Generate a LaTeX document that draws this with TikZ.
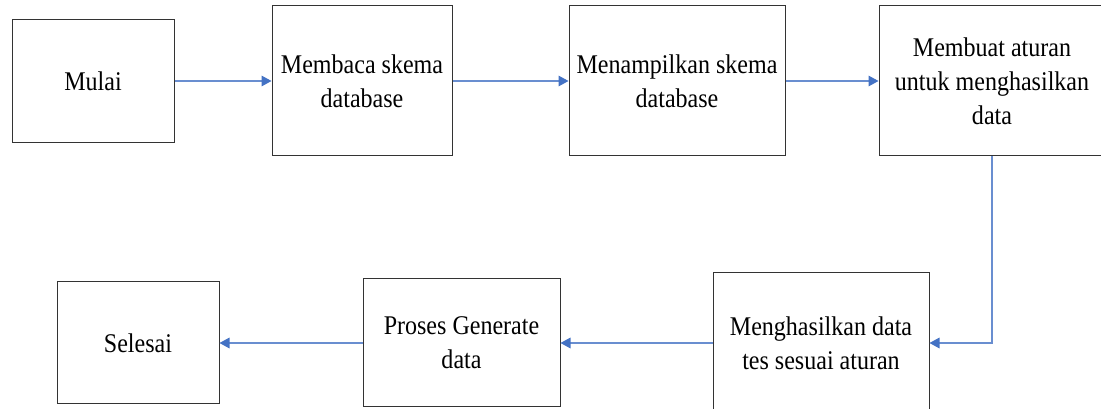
\documentclass[tikz,border=0pt]{standalone}
\usepackage{fontspec}
\setmainfont[FakeStretch=0.89]{Liberation Serif}
\usetikzlibrary{arrows.meta}
\definecolor{arrowblue}{RGB}{68,114,196}
\begin{document}
\begin{tikzpicture}[x=0.75pt,y=-0.75pt,
  stepbox/.style={draw=black!80, line width=0.75pt, align=center, inner sep=0pt,
    font=\fontsize{20.25}{25.5}\selectfont},
  flow/.style={draw=arrowblue!80, line width=0.8pt,
    -{Triangle[length=7.5pt,width=8pt,color=arrowblue]}}]
\useasboundingbox (0,0) rectangle (1101,409);
\clip (0,0) rectangle (1101,409);

% top row
\node[stepbox, minimum width=121.5pt, minimum height=92.25pt] (mulai) at (93,81) {Mulai};
\node[stepbox, minimum width=135pt, minimum height=112.5pt] (baca) at (362,81) {Membaca skema\\database};
\node[stepbox, minimum width=162pt, minimum height=112.5pt] (tampil) at (677,81) {Menampilkan skema\\database};
\node[stepbox, minimum width=169.5pt, minimum height=112.5pt] (aturan) at (992,81) {Membuat aturan\\untuk menghasilkan\\data};

% bottom row
\node[stepbox, minimum width=162pt, minimum height=105pt] (hasil) at (821,343) {Menghasilkan data\\tes sesuai aturan};
\node[stepbox, minimum width=147.75pt, minimum height=96pt] (proses) at (461.5,343) {Proses Generate\\data};
\node[stepbox, minimum width=121.5pt, minimum height=91.5pt] (selesai) at (138,343) {Selesai};

% connectors
\draw[flow] (mulai) -- (baca);
\draw[flow] (baca) -- (tampil);
\draw[flow] (tampil) -- (aturan);
\draw[flow] (aturan.south) |- (hasil.east);
\draw[flow] (hasil) -- (proses);
\draw[flow] (proses) -- (selesai);
\end{tikzpicture}
\end{document}
